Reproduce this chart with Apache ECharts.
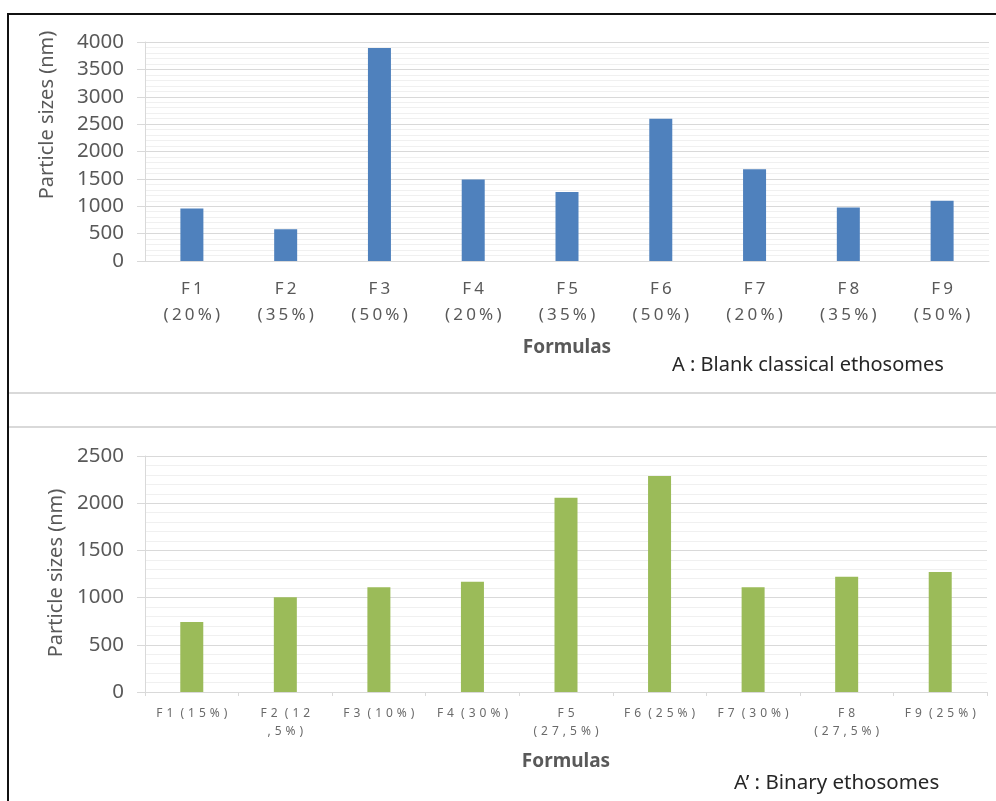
<!DOCTYPE html>
<html>
<head>
<meta charset="utf-8">
<script src="https://cdn.jsdelivr.net/npm/echarts@6/dist/echarts.min.js"></script>
<style>html,body{margin:0;padding:0;background:#fff;}#c{width:996px;height:801px;}</style>
</head>
<body>
<div id="c"></div>
<script>
// ---- data ----
var categoriesA = ["F1 (20%)", "F2 (35%)", "F3 (50%)", "F4 (20%)", "F5 (35%)", "F6 (50%)", "F7 (20%)", "F8 (35%)", "F9 (50%)"];
var tickLabelsA = ["F1\n(20%)", "F2\n(35%)", "F3\n(50%)", "F4\n(20%)", "F5\n(35%)", "F6\n(50%)", "F7\n(20%)", "F8\n(35%)", "F9\n(50%)"];
var valuesA = [960, 580, 3890, 1490, 1260, 2600, 1675, 975, 1100];

var categoriesB = ["F1 (15%)", "F2 (12,5%)", "F3 (10%)", "F4 (30%)", "F5 (27,5%)", "F6 (25%)", "F7 (30%)", "F8 (27,5%)", "F9 (25%)"];
var tickLabelsB = ["F1 (15%)", "F2 (12\n,5%)", "F3 (10%)", "F4 (30%)", "F5\n(27,5%)", "F6 (25%)", "F7 (30%)", "F8\n(27,5%)", "F9 (25%)"];
var valuesB = [742, 1004, 1110, 1167, 2058, 2288, 1110, 1220, 1270];

var yTicksA = {min: 0, max: 4000, interval: 500};
var yTicksB = {min: 0, max: 2500, interval: 500};

// letter-spaced label via rich fragments (text unchanged)
function spaced(label) {
  return label.split("\n").map(function (line) {
    return line.split("").map(function (ch) {
      return ch === " " ? "{s| }" : "{c|" + ch + "}";
    }).join("");
  }).join("\n");
}

var FONT = "'Noto Sans', 'Open Sans', sans-serif";
var chart = echarts.init(document.getElementById('c'), null, {renderer: 'canvas'});

function yAxisCfg(idx, t) {
  return {
    type: 'value', gridIndex: idx, min: t.min, max: t.max, interval: t.interval,
    axisLine: {show: true, lineStyle: {color: '#d9d9d9', width: 1}},
    axisTick: {show: true, length: 8, lineStyle: {color: '#d9d9d9'}},
    axisLabel: {color: '#595959', fontSize: 20.5, fontFamily: FONT, margin: 21,
                formatter: function (v) { return String(v); }},
    splitLine: {show: true, lineStyle: {color: '#d9d9d9', width: 1}},
    minorTick: {show: false, splitNumber: 5},
    minorSplitLine: {show: true, lineStyle: {color: '#f0f0f0', width: 1}}
  };
}

var option = {
  animation: false,
  backgroundColor: '#ffffff',
  grid: [
    {left: 145, right: 7, top: 42, height: 219, containLabel: false},
    {left: 145, right: 9, top: 456, height: 236, containLabel: false}
  ],
  xAxis: [
    {
      type: 'category', gridIndex: 0, data: categoriesA,
      axisLine: {show: true, lineStyle: {color: '#d9d9d9'}},
      axisTick: {show: false},
      axisLabel: {
        interval: 0, margin: 15,
        formatter: function (v, i) { return spaced(tickLabelsA[i]); },
        rich: {
          c: {fontSize: 17, fontFamily: FONT, color: '#595959', padding: [0, 1.6, 0, 1.6], lineHeight: 26},
          s: {fontSize: 17, fontFamily: FONT, color: '#595959', lineHeight: 26}
        }
      }
    },
    {
      type: 'category', gridIndex: 1, data: categoriesB,
      axisLine: {show: true, lineStyle: {color: '#d9d9d9'}},
      axisTick: {show: true, length: 4, alignWithLabel: false, lineStyle: {color: '#d9d9d9'}},
      axisLabel: {
        interval: 0, margin: 13,
        formatter: function (v, i) { return spaced(tickLabelsB[i]); },
        rich: {
          c: {fontSize: 12, fontFamily: FONT, color: '#6a6a6a', padding: [0, 2, 0, 2], lineHeight: 18},
          s: {fontSize: 12, fontFamily: FONT, color: '#6a6a6a', lineHeight: 18}
        }
      }
    }
  ],
  yAxis: [yAxisCfg(0, yTicksA), yAxisCfg(1, yTicksB)],
  series: [
    {type: 'bar', xAxisIndex: 0, yAxisIndex: 0, data: valuesA, barWidth: 23,
     itemStyle: {color: '#4F81BD'}},
    {type: 'bar', xAxisIndex: 1, yAxisIndex: 1, data: valuesB, barWidth: 23,
     itemStyle: {color: '#9BBB59'}}
  ],
  graphic: [
    {type: 'line', shape: {x1: 8, y1: 14, x2: 996, y2: 14}, style: {stroke: '#111', lineWidth: 2}},
    {type: 'line', shape: {x1: 8, y1: 13, x2: 8, y2: 801}, style: {stroke: '#111', lineWidth: 2}},
    {type: 'line', shape: {x1: 9, y1: 393, x2: 996, y2: 393}, style: {stroke: '#d9d9d9', lineWidth: 2}},
    {type: 'line', shape: {x1: 9, y1: 427, x2: 996, y2: 427}, style: {stroke: '#d9d9d9', lineWidth: 2}},
    {type: 'text', x: 47, y: 115, rotation: Math.PI / 2,
     style: {text: 'Particle sizes (nm)', fill: '#595959', font: '20px ' + FONT, align: 'center', verticalAlign: 'middle'}},
    {type: 'text', x: 56, y: 573, rotation: Math.PI / 2,
     style: {text: 'Particle sizes (nm)', fill: '#595959', font: '20px ' + FONT, align: 'center', verticalAlign: 'middle'}},
    {type: 'text', x: 567, y: 348,
     style: {text: 'Formulas', fill: '#595959', font: 'bold 19px ' + FONT, align: 'center', verticalAlign: 'middle'}},
    {type: 'text', x: 566, y: 762,
     style: {text: 'Formulas', fill: '#595959', font: 'bold 19px ' + FONT, align: 'center', verticalAlign: 'middle'}},
    {type: 'text', x: 672, y: 365,
     style: {text: 'A : Blank classical ethosomes', fill: '#262626', font: '20px ' + FONT, align: 'left', verticalAlign: 'middle'}},
    {type: 'text', x: 734, y: 783,
     style: {text: 'A\u2019 : Binary ethosomes', fill: '#262626', font: '20.5px ' + FONT, align: 'left', verticalAlign: 'middle'}}
  ]
};
chart.setOption(option);
</script>
</body>
</html>
